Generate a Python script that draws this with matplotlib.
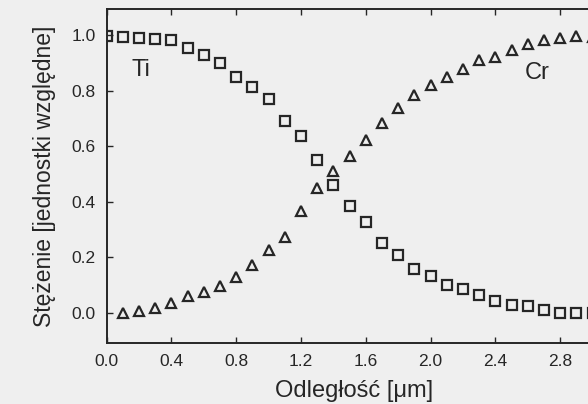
import matplotlib.pyplot as plt
import numpy as np

# Profil stężenia Ti / Cr
odl_ti = [0.0, 0.1, 0.2, 0.3, 0.4, 0.5, 0.6, 0.7, 0.8, 0.9, 1.0, 1.1, 1.2, 1.3, 1.4,
          1.5, 1.6, 1.7, 1.8, 1.9, 2.0, 2.1, 2.2, 2.3, 2.4, 2.5, 2.6, 2.7, 2.8, 2.9, 3.0]
ti = [0.995, 0.994, 0.988, 0.985, 0.980, 0.952, 0.928, 0.898, 0.848, 0.811, 0.771,
      0.692, 0.635, 0.551, 0.461, 0.386, 0.329, 0.252, 0.210, 0.159, 0.134, 0.102,
      0.086, 0.066, 0.045, 0.030, 0.026, 0.012, 0.002, 0.001, 0.001]

odl_cr = [0.1, 0.2, 0.3, 0.4, 0.5, 0.6, 0.7, 0.8, 0.9, 1.0, 1.1, 1.2, 1.3, 1.4, 1.5,
          1.6, 1.7, 1.8, 1.9, 2.0, 2.1, 2.2, 2.3, 2.4, 2.5, 2.6, 2.7, 2.8, 2.9, 3.0]
cr = [0.002, 0.006, 0.018, 0.036, 0.060, 0.075, 0.099, 0.129, 0.174, 0.227, 0.275,
      0.366, 0.451, 0.510, 0.563, 0.623, 0.683, 0.737, 0.784, 0.820, 0.848, 0.877,
      0.908, 0.920, 0.944, 0.967, 0.982, 0.988, 0.996, 0.994]

x_ticks = [0.0, 0.4, 0.8, 1.2, 1.6, 2.0, 2.4, 2.8]
y_ticks = [0.0, 0.2, 0.4, 0.6, 0.8, 1.0]

plt.rcParams['font.family'] = ['Liberation Sans', 'DejaVu Sans']

tlo = '#efefef'
ciemny = '#262626'

fig = plt.figure(figsize=(5.88, 4.04), dpi=100, facecolor=tlo)
ax = fig.add_axes([0.1815, 0.152, 0.84, 0.825], facecolor=tlo)

ax.plot(odl_ti, ti, linestyle='none', marker='s', markersize=7,
        markerfacecolor='none', markeredgecolor=ciemny, markeredgewidth=1.6)
ax.plot(odl_cr, cr, linestyle='none', marker='^', markersize=6.5,
        markerfacecolor='none', markeredgecolor=ciemny, markeredgewidth=1.6)

ax.text(0.214, 0.872, 'Ti', fontsize=17, color=ciemny, ha='center', va='center')
ax.text(2.66, 0.863, 'Cr', fontsize=17, color=ciemny, ha='center', va='center')

ax.set_xlim(0, 3.05)
ax.set_ylim(-0.106, 1.092)
ax.set_xticks(x_ticks)
ax.set_xticklabels([f'{v:.1f}' for v in x_ticks])
ax.set_yticks(y_ticks)
ax.set_yticklabels([f'{v:.1f}' for v in y_ticks])

ax.tick_params(direction='in', length=4, width=1, colors=ciemny, labelsize=12.5,
               top=True, right=True)
ax.tick_params(axis='x', pad=8)
ax.tick_params(axis='y', pad=8)

for sp in ax.spines.values():
    sp.set_color(ciemny)
    sp.set_linewidth(1.4)

ax.set_xlabel('Odległość [μm]', fontsize=17, color=ciemny, labelpad=8)
ax.set_ylabel('Stężenie [jednostki względne]', fontsize=16.5, color=ciemny, labelpad=11)

fig.savefig('out.png', dpi=100, facecolor=tlo)
